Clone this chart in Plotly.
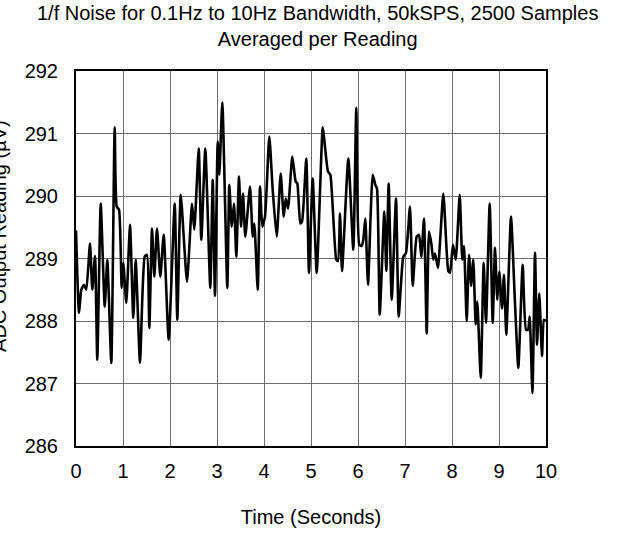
import plotly.graph_objects as go

# time (s) and reading (uV)
time_s = [0.0, 0.064, 0.113, 0.170, 0.219, 0.298, 0.347, 0.404, 0.453, 0.526,
          0.611, 0.666, 0.751, 0.823, 0.866, 0.915, 0.972, 1.006, 1.070, 1.149,
          1.219, 1.270, 1.362, 1.462, 1.511, 1.560, 1.617, 1.666, 1.723, 1.794,
          1.866, 1.972, 2.100, 2.155, 2.228, 2.362, 2.468, 2.517, 2.611, 2.666,
          2.751, 2.857, 2.909, 2.957, 3.015, 3.049, 3.113, 3.219, 3.262, 3.313,
          3.362, 3.411, 3.468, 3.511, 3.553, 3.602, 3.702, 3.760, 3.794, 3.866,
          3.915, 3.964, 4.021, 4.113, 4.185, 4.270, 4.355, 4.419, 4.462, 4.511,
          4.602, 4.674, 4.709, 4.772, 4.809, 4.900, 4.957, 5.036, 5.121, 5.249,
          5.277, 5.362, 5.411, 5.538, 5.574, 5.617, 5.660, 5.794, 5.900, 5.964,
          6.028, 6.079, 6.113, 6.155, 6.213, 6.313, 6.368, 6.404, 6.462, 6.560,
          6.602, 6.653, 6.717, 6.809, 6.866, 6.964, 7.021, 7.106, 7.164, 7.249,
          7.298, 7.347, 7.404, 7.462, 7.511, 7.560, 7.602, 7.638, 7.702, 7.815,
          7.921, 7.957, 8.021, 8.079, 8.164, 8.219, 8.255, 8.313, 8.362, 8.411,
          8.453, 8.504, 8.538, 8.611, 8.674, 8.723, 8.802, 8.866, 8.915, 8.964,
          9.006, 9.064, 9.106, 9.155, 9.255, 9.340, 9.411, 9.504, 9.574, 9.617,
          9.653, 9.711, 9.766, 9.809, 9.857, 9.915, 9.957, 10.0]
reading_uv = [289.45, 288.13, 288.50, 288.58, 288.50, 289.24, 288.50, 289.04, 287.38, 289.88,
              288.23, 288.98, 287.33, 291.10, 289.83, 289.78, 288.53, 288.93, 288.29, 289.54,
              288.05, 288.98, 287.33, 289.03, 289.06, 287.89, 289.48, 288.71, 289.48, 288.71,
              289.38, 287.70, 289.88, 288.02, 290.02, 288.63, 289.88, 289.46, 290.76, 289.30,
              290.76, 288.53, 290.26, 288.40, 290.87, 290.34, 291.50, 288.53, 290.18, 289.51,
              289.88, 289.03, 290.31, 289.51, 290.04, 289.35, 290.15, 289.35, 289.56, 288.50,
              290.15, 289.51, 289.67, 290.95, 290.10, 289.35, 290.36, 289.67, 289.96, 289.80,
              290.63, 290.23, 290.20, 289.56, 289.59, 290.60, 288.77, 290.28, 288.77, 291.10,
              290.94, 290.39, 290.34, 288.98, 288.96, 289.72, 288.80, 290.60, 289.14, 291.41,
              289.22, 289.20, 289.30, 289.64, 288.58, 290.34, 290.18, 290.12, 288.10, 289.75,
              288.80, 290.20, 288.34, 289.96, 288.07, 289.03, 289.09, 289.83, 288.56, 289.35,
              289.38, 289.03, 289.64, 287.80, 289.43, 289.24, 288.98, 289.08, 288.85, 290.04,
              288.80, 288.77, 289.22, 288.98, 290.02, 288.98, 289.20, 288.00, 289.06, 288.56,
              288.98, 287.94, 288.31, 287.09, 288.93, 287.97, 289.88, 287.97, 289.17, 288.34,
              288.79, 288.20, 288.74, 287.78, 289.67, 288.29, 287.25, 288.90, 287.86, 287.86,
              288.07, 286.85, 289.09, 287.62, 288.44, 287.44, 288.02, 288.00]

x_ticks = list(range(0, 11))
y_ticks = [286, 287, 288, 289, 290, 291, 292]

title_text = "1/f Noise for 0.1Hz to 10Hz Bandwidth, 50kSPS, 2500 Samples<br>Averaged per Reading"
y_title = "ADC Output Reading (µV)"
x_title = "Time (Seconds)"

font = "Liberation Sans, Arial, sans-serif"
fs = 20

fig = go.Figure()
fig.add_trace(go.Scatter(
    x=time_s, y=reading_uv, mode="lines",
    line=dict(color="black", width=2.6, shape="spline", smoothing=0.5),
    showlegend=False, hoverinfo="skip",
))

fig.update_layout(
    width=626, height=533,
    margin=dict(l=76, r=80, t=71, b=87, autoexpand=False),
    paper_bgcolor="white", plot_bgcolor="white",
    font=dict(family=font, size=fs, color="black"),
    xaxis=dict(
        range=[0, 10], tickvals=x_ticks, ticks="", ticklabelstandoff=6,
        showgrid=True, gridcolor="#6e6e6e", gridwidth=1,
        showline=True, linecolor="black", linewidth=2, mirror=True,
        zeroline=False, tickfont=dict(size=fs), automargin=False,
        title=dict(text=x_title, standoff=29, font=dict(size=fs)),
    ),
    yaxis=dict(
        range=[286, 292], tickvals=y_ticks, ticks="", ticklabelstandoff=12,
        showgrid=True, gridcolor="#6e6e6e", gridwidth=1,
        showline=True, linecolor="black", linewidth=2, mirror=True,
        zeroline=False, tickfont=dict(size=fs), automargin=False,
    ),
    annotations=[
        dict(text=title_text, xref="paper", yref="paper",
             x=0.513, y=1 + 19 / 375, xanchor="center", yanchor="bottom",
             showarrow=False, align="center",
             font=dict(family=font, size=fs, color="black")),
        dict(text=y_title, textangle=-90,
             xref="paper", yref="paper", x=-0.164, y=0.56,
             xanchor="center", yanchor="middle", showarrow=False,
             font=dict(family=font, size=fs, color="black")),
    ],
)

# drop the page's default body margin so the figure sits at the window's corner
fig.write_html("out.html", config={"displayModeBar": False},
               post_script="document.body.style.margin='0';")
